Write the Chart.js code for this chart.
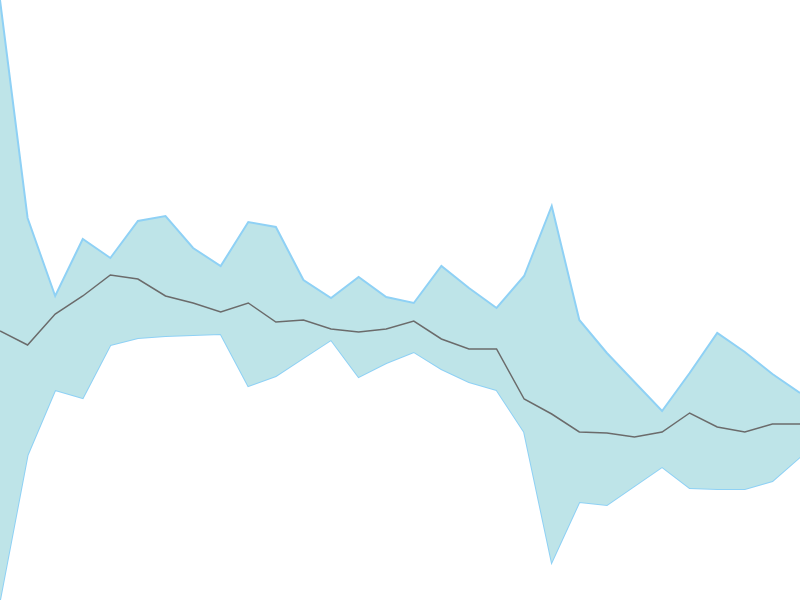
<!DOCTYPE html>
<html>
<head>
<meta charset="utf-8">
<title>Band chart</title>
<script src="https://cdn.jsdelivr.net/npm/chart.js@4/dist/chart.umd.min.js"></script>
<style>
    html, body { margin: 0; padding: 0; background: #ffffff; }
    #band-chart { display: block; }
</style>
</head>
<body>
<canvas id="band-chart" width="800" height="600"></canvas>
<script>
// Values (no axes shown, scale 0..600)
const labels = ['1', '2', '3', '4', '5', '6', '7', '8', '9', '10',
    '11', '12', '13', '14', '15', '16', '17', '18', '19', '20',
    '21', '22', '23', '24', '25', '26', '27', '28', '29', '30'];

const upperValues = [600, 382, 304, 361, 342, 379, 384, 352, 334, 378,
    373, 320, 302, 323, 303, 297, 334, 312, 292, 324,
    394, 280, 247, 218, 189, 227, 267, 248, 226, 207];

const middleValues = [269, 255, 286, 304, 325, 321, 304, 297, 288, 297,
    278, 280, 271, 268, 271, 279, 261, 251, 251, 201,
    186, 168, 167, 163, 168, 187, 173, 168, 176, 176];

const lowerValues = [0, 145, 210, 202, 255, 262, 264, 265, 266, 214,
    224, 242, 260, 223, 237, 248, 231, 218, 210, 168,
    38, 98, 95, 114, 133, 112, 111, 111, 119, 143];

const ctx = document.getElementById('band-chart');

new Chart(ctx, {
    type: 'line',
    data: {
        labels: labels,
        datasets: [
            {
                label: 'Middle',
                data: middleValues,
                borderColor: '#6b6b6b',
                borderWidth: 1.5,
                pointRadius: 0,
                fill: false,
                tension: 0
            },
            {
                label: 'Upper',
                data: upperValues,
                borderColor: '#8fd1f5',
                backgroundColor: '#bee4e8',
                borderWidth: 2,
                pointRadius: 0,
                fill: '+1',
                tension: 0
            },
            {
                label: 'Lower',
                data: lowerValues,
                borderColor: '#8fd1f5',
                borderWidth: 2,
                pointRadius: 0,
                fill: false,
                tension: 0
            }
        ]
    },
    options: {
        responsive: false,
        animation: false,
        devicePixelRatio: 1,
        layout: { padding: 0 },
        plugins: {
            legend: { display: false },
            tooltip: { enabled: false }
        },
        scales: {
            x: { display: false, offset: false },
            y: { display: false, min: 0, max: 600 }
        }
    }
});
</script>
</body>
</html>
